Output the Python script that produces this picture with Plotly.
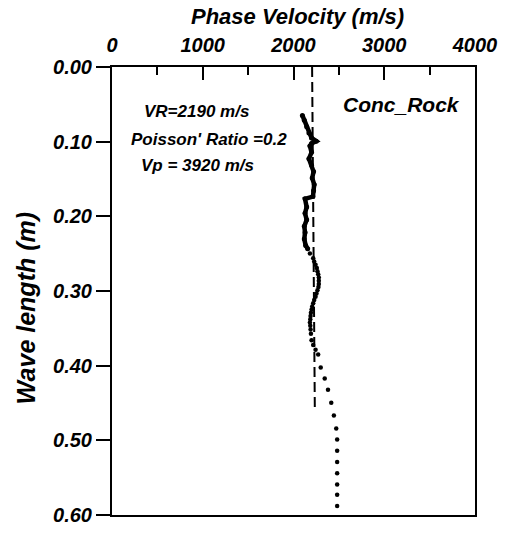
import plotly.graph_objects as go

# ---- data ----
dense_wavelength = [0.0649, 0.0713, 0.0799, 0.0885, 0.0950, 0.0993, 0.1023, 0.1057,
                    0.1143, 0.1229, 0.1315, 0.1401, 0.1487, 0.1573, 0.1659, 0.1736,
                    0.1766, 0.1874, 0.1960, 0.2046, 0.2132, 0.2218, 0.2304, 0.2390, 0.2433]
dense_velocity = [2098, 2119, 2145, 2170, 2199, 2250, 2199, 2181,
                  2199, 2170, 2199, 2221, 2206, 2228, 2221, 2214,
                  2127, 2145, 2127, 2145, 2119, 2127, 2119, 2134, 2156]

dot_wavelength = [0.2497, 0.2562, 0.2605, 0.2648, 0.2691, 0.2734, 0.2777, 0.2820,
                  0.2862, 0.2905, 0.2948, 0.2991, 0.3034, 0.3077, 0.3120, 0.3163,
                  0.3206, 0.3249, 0.3292, 0.3335, 0.3378, 0.3421, 0.3464, 0.3516,
                  0.3572, 0.3658, 0.3722, 0.3787, 0.3851,
                  0.4023, 0.4173, 0.4324, 0.4496, 0.4668, 0.4840, 0.4990,
                  0.5140, 0.5291, 0.5441, 0.5592, 0.5730, 0.5880]
dot_velocity = [2181, 2217, 2228, 2243, 2257, 2264, 2272, 2279,
                2279, 2279, 2275, 2264, 2253, 2243, 2228, 2217,
                2206, 2199, 2192, 2188, 2185, 2181, 2185, 2188,
                2192, 2199, 2217, 2243, 2272,
                2300, 2344, 2380, 2416, 2445, 2471, 2481,
                2481, 2481, 2481, 2481, 2481, 2481]

vr_line_velocity = [2205, 2235]
vr_line_wavelength = [0.0, 0.46]

x_tick_values = [0, 1000, 2000, 3000, 4000]
x_tick_labels = ["0", "1000", "2000", "3000", "4000"]
y_tick_values = [0.0, 0.1, 0.2, 0.3, 0.4, 0.5, 0.6]
y_tick_labels = ["0.00", "0.10", "0.20", "0.30", "0.40", "0.50", "0.60"]

info_lines = ["VR=2190 m/s", "Poisson' Ratio =0.2", "Vp = 3920 m/s"]
sample_name = "Conc_Rock"
x_title = "Phase Velocity (m/s)"
y_title = "Wave length (m)"

# ---- layout geometry ----
W, H = 508, 537
L, R, T, B = 112, 477, 67, 526
PW, PH = R - L, B - T


def px(x):
    return (x - L) / PW


def py(y):
    return 1 - (y - T) / PH


FAM = "Liberation Sans, Arial, Helvetica, sans-serif"


def bfont(size):
    return dict(family=FAM, size=size, color="black", weight="bold", style="italic")


fig = go.Figure()

fig.add_trace(go.Scatter(
    x=vr_line_velocity, y=vr_line_wavelength, mode="lines",
    line=dict(color="black", width=2, dash="10px,5px"),
    showlegend=False, hoverinfo="skip"))

fig.add_trace(go.Scatter(
    x=dense_velocity, y=dense_wavelength, mode="lines+markers",
    line=dict(color="black", width=4.5),
    marker=dict(color="black", size=5),
    showlegend=False))

fig.add_trace(go.Scatter(
    x=dot_velocity, y=dot_wavelength, mode="markers",
    marker=dict(color="black", size=4.5),
    showlegend=False))

fig.update_layout(
    width=W, height=H,
    margin=dict(l=L, r=W - R, t=T, b=H - B, pad=0),
    paper_bgcolor="white", plot_bgcolor="white",
    showlegend=False,
    xaxis=dict(
        side="top", range=[0, 4000], showgrid=False, zeroline=False,
        showline=True, linecolor="black", linewidth=2, mirror=True,
        tickmode="array", tickvals=x_tick_values, ticktext=x_tick_labels,
        ticks="inside", ticklen=13, tickwidth=2, tickcolor="black",
        minor=dict(dtick=500, ticks="inside", ticklen=8, tickwidth=2, tickcolor="black"),
        tickfont=bfont(20), ticklabelstandoff=5,
    ),
    yaxis=dict(
        range=[0.6, 0.0], showgrid=False, zeroline=False,
        showline=True, linecolor="black", linewidth=2, mirror=True,
        tickmode="array", tickvals=y_tick_values, ticktext=y_tick_labels,
        ticks="outside", ticklen=14, tickwidth=2, tickcolor="black",
        tickfont=bfont(20),
    ),
)

annotations = [
    dict(text=x_title, x=px(299), y=py(15), font=bfont(22)),
    dict(text=y_title, x=px(26), y=py(314), font=bfont(25), textangle=-90),
    dict(text=info_lines[0], x=px(197), y=py(113), font=bfont(17)),
    dict(text=info_lines[1], x=px(210), y=py(141), font=bfont(17)),
    dict(text=info_lines[2], x=px(198), y=py(168), font=bfont(17)),
    dict(text=sample_name, x=px(403), y=py(105), font=bfont(21)),
]
for a in annotations:
    a.update(xref="paper", yref="paper", showarrow=False,
             xanchor="center", yanchor="middle")
fig.update_layout(annotations=annotations)

fig.write_html("out.html")
